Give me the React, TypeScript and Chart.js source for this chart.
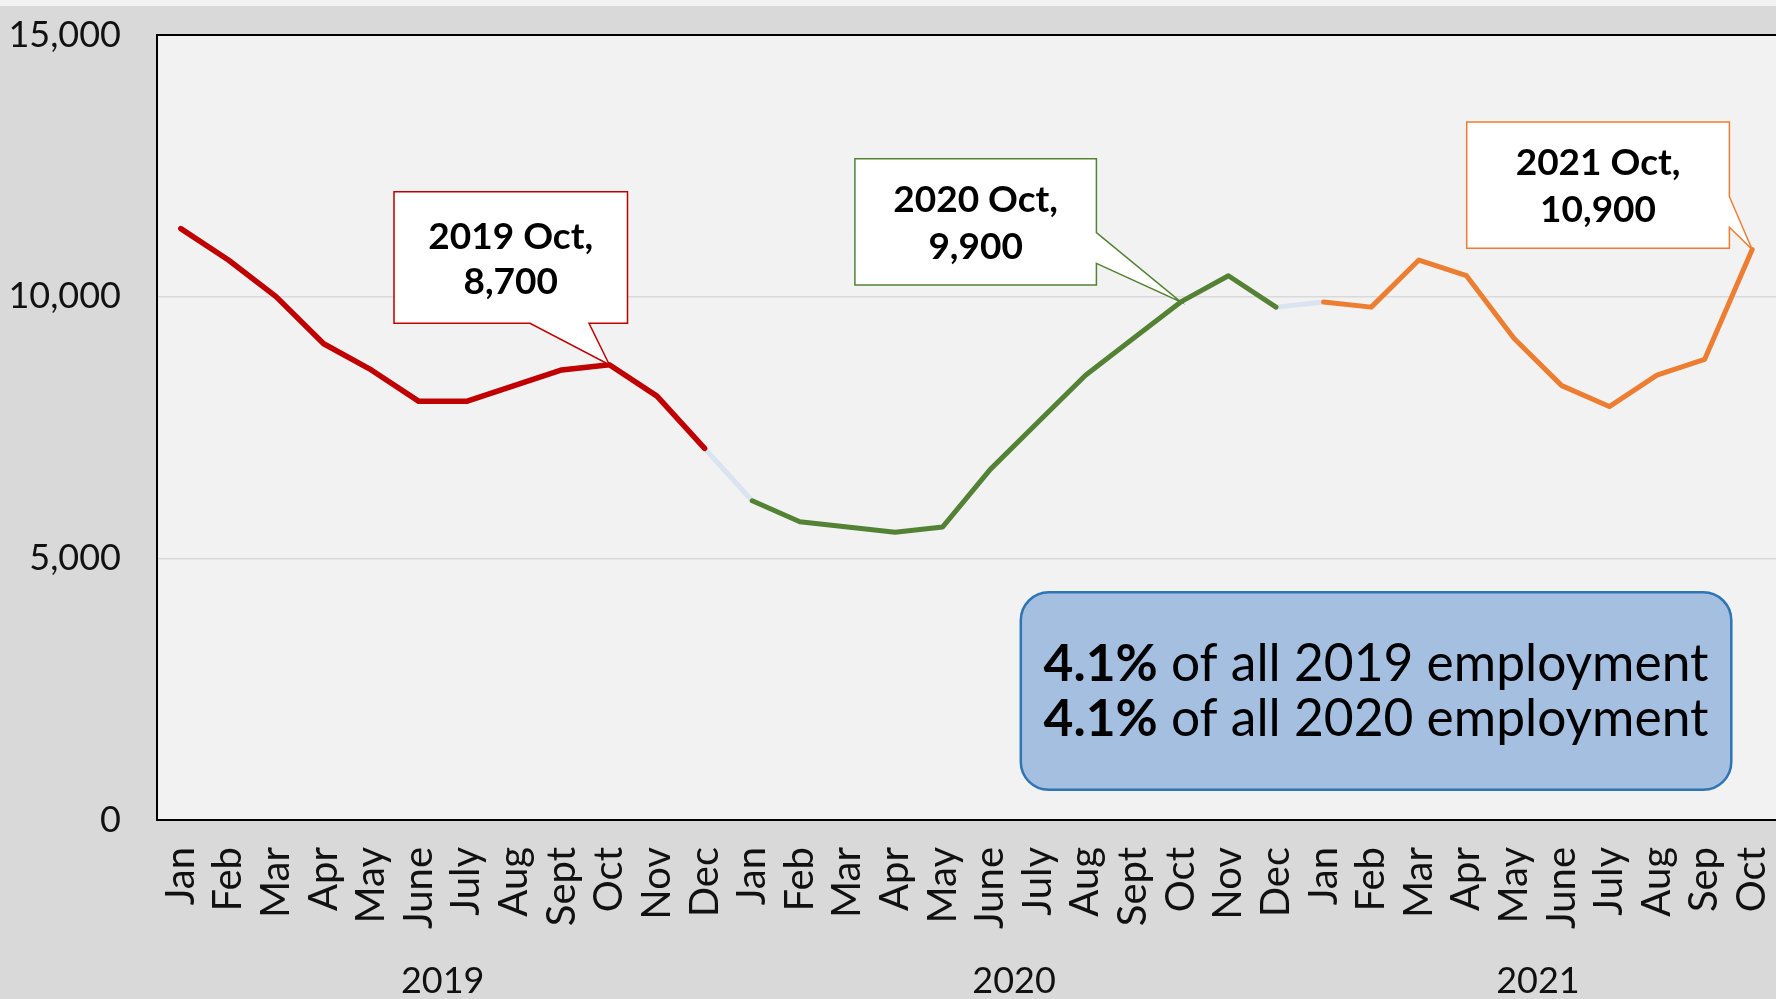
import React, { useEffect, useRef } from "react";
import { Chart, registerables } from "chart.js";

Chart.register(...registerables);

const months2019 = ["Jan", "Feb", "Mar", "Apr", "May", "June", "July", "Aug", "Sept", "Oct", "Nov", "Dec"];
const months2020 = ["Jan", "Feb", "Mar", "Apr", "May", "June", "July", "Aug", "Sept", "Oct", "Nov", "Dec"];
const months2021 = ["Jan", "Feb", "Mar", "Apr", "May", "June", "July", "Aug", "Sep", "Oct"];
const yearLabels = ["2019", "2020", "2021"];

const values2019 = [11300, 10700, 10000, 9100, 8600, 8000, 8000, 8300, 8600, 8700, 8100, 7100];
const values2020 = [6100, 5700, 5600, 5500, 5600, 6700, 7600, 8500, 9200, 9900, 10400, 9800];
const values2021 = [9900, 9800, 10700, 10400, 9200, 8300, 7900, 8500, 8800, 10900];

const yMin = 0;
const yMax = 15000;
const yStep = 5000;

const callout2019 = ["2019 Oct,", "8,700"];
const callout2020 = ["2020 Oct,", "9,900"];
const callout2021 = ["2021 Oct,", "10,900"];
const infoBold = ["4.1%", "4.1%"];
const infoRest = [" of all 2019 employment", " of all 2020 employment"];

const FONT = "Lato, 'DejaVu Sans', sans-serif";
const RED = "#c00000";
const GREEN = "#548235";
const ORANGE = "#ed7d31";
const LIGHT = "#dae3f0";

const labels = [...months2019, ...months2020, ...months2021];
const n = labels.length;
const n19 = values2019.length;
const n20 = values2020.length;
const all = [...values2019, ...values2020, ...values2021];

const pick = (from: number, to: number) => all.map((v, i) => (i >= from && i <= to ? v : null));

const idxOct2019 = months2019.indexOf("Oct");
const idxOct2020 = n19 + months2020.indexOf("Oct");
const idxOct2021 = n19 + n20 + months2021.indexOf("Oct");

function drawCallout(
  ctx: CanvasRenderingContext2D,
  box: [number, number, number, number],
  side: "bottom" | "right",
  base: [number, number],
  tip: [number, number],
  color: string,
  lines: string[],
  lineYs: number[]
) {
  const [x0, y0, x1, y1] = box;
  ctx.save();
  ctx.beginPath();
  ctx.moveTo(x0, y0);
  ctx.lineTo(x1, y0);
  if (side === "right") {
    ctx.lineTo(x1, base[0]);
    ctx.lineTo(tip[0], tip[1]);
    ctx.lineTo(x1, base[1]);
    ctx.lineTo(x1, y1);
    ctx.lineTo(x0, y1);
  } else {
    ctx.lineTo(x1, y1);
    ctx.lineTo(base[1], y1);
    ctx.lineTo(tip[0], tip[1]);
    ctx.lineTo(base[0], y1);
    ctx.lineTo(x0, y1);
  }
  ctx.closePath();
  ctx.fillStyle = "#ffffff";
  ctx.fill();
  ctx.strokeStyle = color;
  ctx.lineWidth = 1.5;
  ctx.lineJoin = "miter";
  ctx.stroke();
  ctx.fillStyle = "#000000";
  ctx.font = `bold 37px ${FONT}`;
  ctx.textAlign = "center";
  ctx.textBaseline = "middle";
  const cx = (x0 + x1) / 2;
  lines.forEach((t, i) => ctx.fillText(t, cx, lineYs[i]));
  ctx.restore();
}

const decorPlugin = {
  id: "decor",
  beforeDraw(chart: any) {
    const { ctx, chartArea: a, width, height } = chart;
    ctx.save();
    ctx.fillStyle = "#d9d9d9";
    ctx.fillRect(0, 0, width, height);
    ctx.fillStyle = "#f2f2f2";
    ctx.fillRect(0, 0, width, 6);
    ctx.fillRect(a.left, a.top, width - a.left, a.bottom - a.top);
    ctx.restore();
  },
  beforeDatasetsDraw(chart: any) {
    const { ctx, chartArea: a, width } = chart;
    ctx.save();
    ctx.strokeStyle = "#000000";
    ctx.lineWidth = 2;
    ctx.beginPath();
    ctx.moveTo(width + 2, a.top);
    ctx.lineTo(a.left, a.top);
    ctx.lineTo(a.left, a.bottom);
    ctx.lineTo(width + 2, a.bottom);
    ctx.stroke();
    ctx.restore();
  },
  afterDatasetsDraw(chart: any) {
    const { ctx } = chart;
    const xs = chart.scales.x;
    const ys = chart.scales.y;
    const pt = (i: number): [number, number] => [xs.getPixelForValue(i), ys.getPixelForValue(all[i])];

    drawCallout(ctx, [394, 191.7, 627.5, 323.3], "bottom", [530, 589], pt(idxOct2019), RED, callout2019, [237, 282]);
    drawCallout(ctx, [854.9, 158.7, 1096.4, 285], "right", [232.7, 263.3], pt(idxOct2020), GREEN, callout2020, [200, 246.7]);
    drawCallout(ctx, [1466.7, 122, 1729.4, 248.3], "right", [196.7, 227.3], pt(idxOct2021), ORANGE, callout2021, [163.3, 210]);

    // info box
    ctx.save();
    const bx = 1020.8, by = 592.3, bw = 710.5, bh = 197.5, r = 28;
    ctx.beginPath();
    (ctx as any).roundRect(bx, by, bw, bh, r);
    ctx.fillStyle = "#a4bfe0";
    ctx.fill();
    ctx.strokeStyle = "#2e75b6";
    ctx.lineWidth = 2.5;
    ctx.stroke();
    ctx.fillStyle = "#000000";
    ctx.textBaseline = "alphabetic";
    ctx.textAlign = "left";
    const cx = bx + bw / 2;
    const baselines = [681, 736.3];
    const fs = 51.5;
    infoBold.forEach((b, i) => {
      ctx.font = `bold ${fs}px ${FONT}`;
      const wb = ctx.measureText(b).width;
      ctx.font = `${fs}px ${FONT}`;
      const wr = ctx.measureText(infoRest[i]).width;
      const start = cx - (wb + wr) / 2;
      ctx.font = `bold ${fs}px ${FONT}`;
      ctx.fillText(b, start, baselines[i]);
      ctx.font = `${fs}px ${FONT}`;
      ctx.fillText(infoRest[i], start + wb, baselines[i]);
    });
    ctx.restore();
  },
  afterDraw(chart: any) {
    const { ctx } = chart;
    const xs = chart.scales.x;
    const groups = [
      [0, n19 - 1],
      [n19, n19 + n20 - 1],
      [n19 + n20, n - 1],
    ];
    ctx.save();
    ctx.fillStyle = "#111111";
    ctx.font = `36px ${FONT}`;
    ctx.textAlign = "center";
    ctx.textBaseline = "middle";
    groups.forEach(([s, e], i) => {
      const x = (xs.getPixelForValue(s) + xs.getPixelForValue(e)) / 2;
      ctx.fillText(yearLabels[i], x, 981);
    });
    ctx.restore();
  },
};

export default function App() {
  const ref = useRef<HTMLCanvasElement | null>(null);

  useEffect(() => {
    document.body.style.margin = "0";
    const canvas = ref.current;
    if (!canvas) return;
    const common = { pointRadius: 0, pointHoverRadius: 0, spanGaps: false, fill: false, tension: 0 };
    const chart = new Chart(canvas, {
      type: "line",
      data: {
        labels,
        datasets: [
          { ...common, data: pick(0, n19 - 1), borderColor: RED, borderWidth: 5.5, borderJoinStyle: "round", borderCapStyle: "round" },
          { ...common, data: pick(n19, n19 + n20 - 1), borderColor: GREEN, borderWidth: 5, borderJoinStyle: "round", borderCapStyle: "round" },
          { ...common, data: pick(n19 + n20, n - 1), borderColor: ORANGE, borderWidth: 5, borderJoinStyle: "round", borderCapStyle: "round" },
          { ...common, data: pick(n19 - 1, n19), borderColor: LIGHT, borderWidth: 5 },
          { ...common, data: pick(n19 + n20 - 1, n19 + n20), borderColor: LIGHT, borderWidth: 5 },
        ] as any,
      },
      options: {
        animation: false,
        responsive: false,
        maintainAspectRatio: false,
        layout: { padding: { top: 35, right: 0, left: 0, bottom: 0 } },
        plugins: { legend: { display: false }, tooltip: { enabled: false } },
        events: [],
        scales: {
          x: {
            offset: true,
            grid: { display: false, drawTicks: false },
            border: { display: false },
            ticks: {
              autoSkip: false,
              maxRotation: 90,
              minRotation: 90,
              padding: 27,
              color: "#111111",
              font: { family: FONT, size: 40 },
            },
            afterFit: (s: any) => {
              s.height = 179;
              s.paddingLeft = 0;
              s.paddingRight = 0;
            },
          },
          y: {
            min: yMin,
            max: yMax,
            grid: { color: "#d9d9d9", lineWidth: 1.5, drawTicks: false },
            border: { display: false },
            ticks: {
              stepSize: yStep,
              padding: 36,
              color: "#111111",
              font: { family: FONT, size: 36 },
              callback: (v: any) => Number(v).toLocaleString("en-US"),
            },
            afterFit: (s: any) => {
              s.width = 157;
              s.paddingTop = 0;
              s.paddingBottom = 0;
            },
          },
        },
      } as any,
      plugins: [decorPlugin],
    });
    return () => chart.destroy();
  }, []);

  return <canvas ref={ref} width={1776} height={999} style={{ display: "block" }} />;
}
